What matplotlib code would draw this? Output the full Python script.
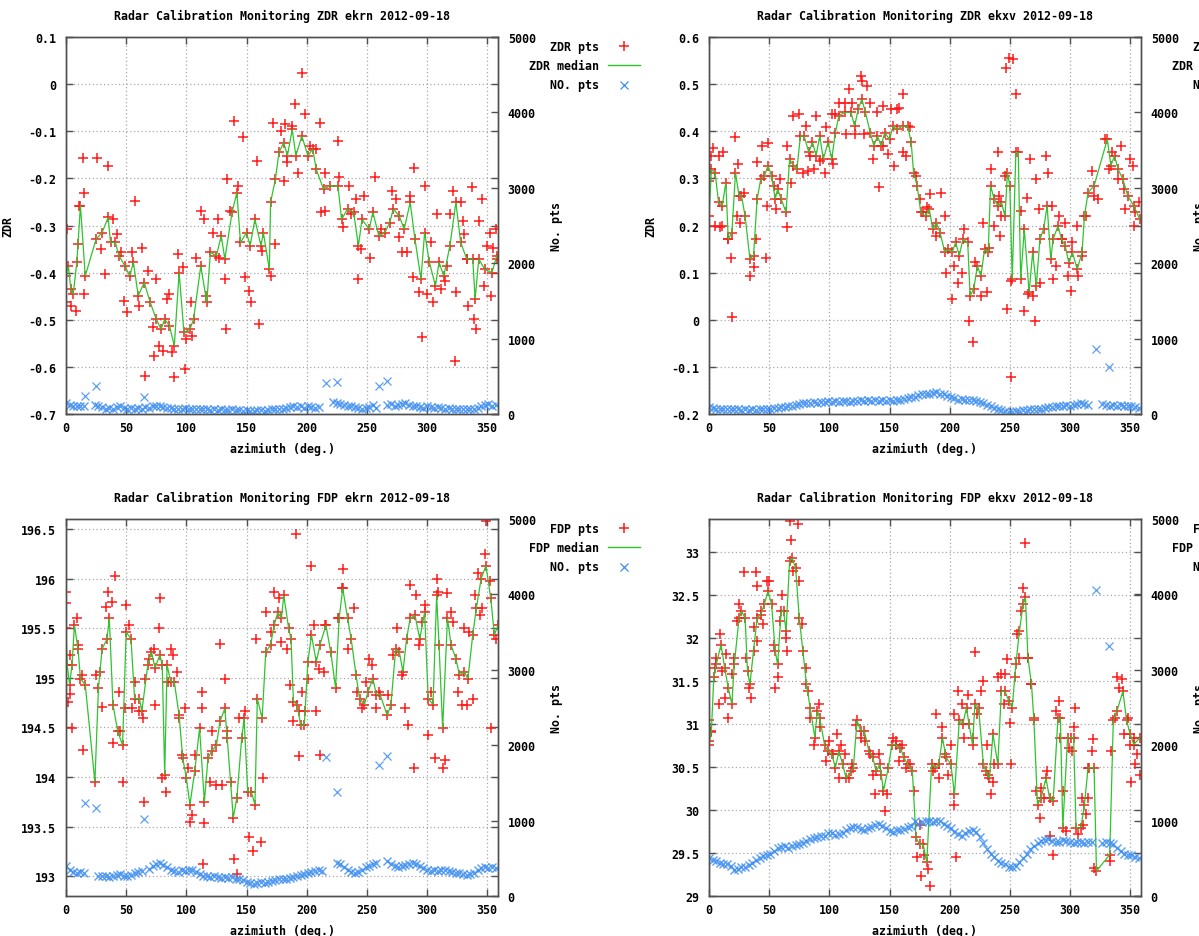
import matplotlib
matplotlib.use('Agg')
import matplotlib.pyplot as plt
from matplotlib.lines import Line2D
from matplotlib.ticker import FuncFormatter, MultipleLocator
import numpy as np

plt.rcParams['font.family'] = ['DejaVu Sans Mono']
plt.rcParams['font.weight'] = 'bold'
plt.rcParams['axes.unicode_minus'] = False

W, H = 1199, 937
FS = 8.4

# ---------------- ZDR ekrn ----------------
zdr_ekrn_median = [(0,-0.407),(2,-0.386),(4,-0.435),(6,-0.446),(9,-0.378),(12,-0.258),(16,-0.407),(25,-0.329),
    (30,-0.315),(35,-0.283),(37,-0.336),(41,-0.336),(44,-0.364),(49,-0.386),(53,-0.407),(56,-0.378),(60,-0.449),
    (65,-0.421),(70,-0.463),(75,-0.499),(79,-0.52),(82,-0.499),(86,-0.513),(90,-0.555),(94,-0.4),(98,-0.527),
    (103,-0.52),(106,-0.499),(112,-0.386),(117,-0.463),(120,-0.357),(125,-0.364),(129,-0.322),(132,-0.371),
    (138,-0.272),(142,-0.23),(145,-0.336),(150,-0.315),(153,-0.343),(157,-0.287),(162,-0.343),(164,-0.315),
    (169,-0.393),(170,-0.251),(174,-0.202),(177,-0.145),(181,-0.124),(184,-0.152),(188,-0.096),(191,-0.152),
    (196,-0.11),(201,-0.152),(205,-0.138),(208,-0.181),(214,-0.223),(219,-0.216),(226,-0.216),(229,-0.287),
    (234,-0.265),(239,-0.272),(243,-0.343),(246,-0.287),(252,-0.308),(255,-0.272),(260,-0.322),(265,-0.315),
    (269,-0.294),(272,-0.265),(277,-0.28),(281,-0.308),(286,-0.251),(290,-0.329),(295,-0.414),(298,-0.315),
    (302,-0.378),(307,-0.428),(310,-0.378),(314,-0.407),(319,-0.343),(324,-0.251),(328,-0.336),(333,-0.371),
    (338,-0.371),(340,-0.456),(343,-0.371),(348,-0.393),(354,-0.4),(358,-0.364)]
zdr_ekrn_pts = [(1,-0.308),(0,-0.463),(4,-0.47),(8,-0.481),(10,-0.34),(11,-0.258),(14,-0.156),(15,-0.23),
    (15,-0.446),(26,-0.156),(35,-0.174),(29,-0.35),(32,-0.403),(39,-0.287),(42,-0.318),(46,-0.357),(48,-0.46),
    (51,-0.484),(55,-0.357),(57,-0.249),(61,-0.47),(63,-0.347),(66,-0.619),(68,-0.396),(72,-0.516),(73,-0.576),
    (75,-0.414),(77,-0.555),(81,-0.566),(84,-0.456),(86,-0.446),(88,-0.569),(90,-0.622),(93,-0.361),(97,-0.389),
    (100,-0.541),(99,-0.605),(104,-0.463),(105,-0.534),(108,-0.368),(112,-0.269),(115,-0.287),(116,-0.449),
    (122,-0.315),(126,-0.287),(127,-0.368),(132,-0.414),(133,-0.52),(134,-0.202),(136,-0.269),(140,-0.078),
    (143,-0.216),(147,-0.113),(149,-0.41),(152,-0.439),(154,-0.463),(159,-0.163),(160,-0.509),(163,-0.354),
    (170,-0.407),(172,-0.082),(174,-0.34),(179,-0.099),(181,-0.205),(182,-0.085),(184,-0.166),(188,-0.089),
    (190,-0.043),(193,-0.188),(196,0.024),(199,-0.064),(203,-0.131),(208,-0.138),(211,-0.082),(212,-0.272),
    (215,-0.269),(215,-0.188),(226,-0.12),(227,-0.198),(230,-0.304),(235,-0.217),(237,-0.276),(241,-0.244),
    (243,-0.414),(245,-0.35),(248,-0.237),(253,-0.368),(257,-0.198),(262,-0.308),(271,-0.227),(274,-0.244),
    (277,-0.325),(279,-0.357),(283,-0.357),(286,-0.237),(289,-0.178),(288,-0.41),(293,-0.442),(296,-0.537),
    (298,-0.216),(300,-0.446),(303,-0.336),(305,-0.463),(308,-0.276),(312,-0.435),(315,-0.417),(317,-0.386),
    (319,-0.276),(322,-0.227),(323,-0.587),(324,-0.442),(328,-0.251),(330,-0.29),(331,-0.318),(333,-0.371),
    (334,-0.47),(337,-0.219),(339,-0.499),(341,-0.52),(343,-0.29),(346,-0.244),(347,-0.428),(350,-0.343),
    (352,-0.315),(353,-0.449),(355,-0.347),(357,-0.308),(358,-0.371)]
nan = float('nan')
zdr_ekrn_count = [150,120,110,100,110,100,nan,nan,120,110,
    90,70,80,70,90,100,80,70,80,70,
    80,70,90,80,100,110,100,90,80,80,
    70,60,70,80,60,70,60,70,60,60,
    50,60,50,60,50,50,60,50,50,40,
    50,40,40,50,50,40,50,60,70,60,
    70,80,90,100,90,100,80,100,90,80,
    90,nan,nan,nan,160,150,130,120,110,100,
    90,80,70,80,90,120,80,nan,nan,120,
    130,110,120,130,140,120,110,100,90,80,
    100,90,80,90,80,70,80,70,60,70,
    60,60,70,60,80,100,120,130,110,120]
zdr_ekrn_count_high = [(16,234),(25,375),(65,221),(216,411),(225,420),(260,375),(267,442)]

# ---------------- ZDR ekxv ----------------
zdr_ekxv_median = [(0,0.22),(2,0.319),(5,0.312),(8,0.249),(11,0.242),(14,0.291),(16,0.171),(19,0.185),(22,0.312),
    (25,0.263),(27,0.263),(30,0.22),(34,0.129),(37,0.136),(40,0.256),(43,0.298),(46,0.305),(49,0.327),(52,0.305),
    (55,0.256),(57,0.277),(60,0.256),(64,0.228),(67,0.341),(70,0.327),(73,0.319),(76,0.39),(79,0.39),(83,0.355),
    (86,0.377),(89,0.348),(92,0.39),(95,0.341),(99,0.377),(102,0.341),(105,0.397),(108,0.433),(113,0.44),
    (118,0.44),(121,0.411),(124,0.447),(127,0.468),(130,0.44),(134,0.397),(137,0.369),(140,0.39),(143,0.369),
    (146,0.397),(150,0.383),(153,0.411),(156,0.404),(161,0.411),(165,0.411),(168,0.377),(170,0.312),(173,0.284),
    (176,0.228),(180,0.22),(183,0.235),(186,0.192),(189,0.206),(192,0.185),(196,0.143),(199,0.15),(202,0.143),
    (205,0.164),(208,0.136),(211,0.171),(215,0.164),(217,0.051),(220,0.065),(223,0.114),(226,0.093),(229,0.15),
    (232,0.143),(234,0.284),(237,0.256),(240,0.242),(243,0.249),(246,0.22),(248,0.312),(250,0.284),(252,0.086),
    (255,0.355),(257,0.355),(259,0.086),(262,0.192),(266,0.058),(269,0.143),(272,0.072),(275,0.171),(278,0.192),
    (281,0.242),(284,0.129),(286,0.171),(290,0.199),(293,0.171),(296,0.157),(299,0.121),(302,0.143),(306,0.107),
    (310,0.143),(312,0.22),(315,0.27),(320,0.284),(331,0.383),(334,0.327),(337,0.348),(340,0.319),(344,0.298),
    (348,0.263),(353,0.242),(358,0.213)]
zdr_ekxv_pts = [(0,0.295),(2,0.348),(3,0.365),(8,0.348),(12,0.355),(5,0.2),(9,0.196),(11,0.2),(16,0.171),
    (18,0.132),(19,0.005),(22,0.387),(24,0.33),(23,0.22),(26,0.206),(29,0.27),(34,0.093),(37,0.111),(39,0.171),
    (40,0.334),(44,0.369),(47,0.132),(48,0.242),(49,0.376),(54,0.284),(56,0.235),(59,0.298),(65,0.196),(65,0.369),
    (68,0.291),(70,0.433),(75,0.436),(78,0.312),(81,0.411),(82,0.316),(84,0.348),(87,0.319),(89,0.433),(92,0.337),
    (96,0.312),(97,0.408),(102,0.436),(103,0.33),(105,0.436),(108,0.461),(113,0.461),(114,0.394),(116,0.489),
    (119,0.461),(121,0.394),(126,0.517),(127,0.507),(129,0.394),(131,0.496),(134,0.461),(136,0.341),(140,0.44),
    (141,0.281),(145,0.454),(145,0.369),(149,0.351),(151,0.447),(154,0.327),(156,0.447),(158,0.45),(161,0.478),
    (161,0.355),(164,0.348),(167,0.408),(172,0.305),(175,0.256),(178,0.228),(181,0.239),(184,0.266),(189,0.178),
    (193,0.27),(196,0.22),(197,0.1),(202,0.044),(204,0.114),(207,0.079),(210,0.1),(212,0.192),(216,-0.002),
    (219,-0.048),(221,0.122),(226,0.051),(228,0.206),(231,0.058),(233,0.153),(234,0.319),(237,0.2),(240,0.355),
    (241,0.263),(242,0.178),(243,0.22),(246,0.305),(248,0.023),(247,0.535),(249,0.556),(253,0.553),(255,0.478),
    (251,-0.122),(251,0.083),(259,0.231),(262,0.019),(264,0.259),(265,0.054),(267,0.341),(269,0.051),(271,-0.002),
    (272,0.298),(274,0.235),(275,0.079),(280,0.348),(282,0.312),(285,0.242),(286,0.086),(288,0.114),(291,0.22),
    (293,0.171),(296,0.206),(298,0.093),(301,0.061),(302,0.164),(306,0.2),(307,0.093),(310,0.136),(313,0.22),
    (318,0.316),(320,0.263),(323,0.256),(329,0.383),(332,0.319),(335,0.355),(340,0.298),(342,0.369),(345,0.277),
    (346,0.235),(350,0.341),(352,0.327),(353,0.2),(354,0.228),(357,0.249)]
zdr_ekxv_count = [90,80,70,60,70,60,70,60,60,50,
    60,50,60,50,60,70,60,70,80,80,
    90,90,100,110,120,130,140,150,150,160,
    150,160,160,170,160,170,160,170,170,160,
    170,170,180,170,180,170,180,170,180,170,
    180,170,190,180,200,210,220,230,250,270,
    260,270,280,290,270,260,240,230,210,190,
    200,180,190,180,170,160,140,120,100,80,
    60,50,40,30,30,40,40,50,50,60,
    60,70,70,80,90,90,100,100,110,120,
    110,120,130,140,130,120,nan,nan,nan,130,
    120,110,120,110,120,110,100,110,90,80]
zdr_ekxv_count_high = [(322,861),(332,618)]

# ---------------- FDP ekrn ----------------
fdp_ekrn_median = [(0,195.5),(1,195.13),(3,194.93),(5,195.13),(7,195.53),(10,195.29),(12,194.99),(16,194.93),
    (24,193.95),(27,194.9),(30,195.29),(34,195.39),(36,195.6),(39,194.73),(43,194.46),(47,194.32),(50,195.46),
    (54,195.39),(57,194.79),(61,194.79),(63,194.66),(68,195.13),(71,195.26),(74,195.1),(78,195.23),(80,195.13),
    (82,194.02),(84,195.13),(87,194.96),(90,194.96),(94,194.62),(97,194.19),(100,193.99),(103,193.72),(107,194.06),
    (111,194.49),(115,193.75),(118,194.19),(121,194.26),(125,194.32),(128,194.56),(132,194.69),(134,194.39),
    (139,193.59),(142,193.79),(146,194.39),(148,194.59),(151,193.85),(154,193.85),(157,193.72),(159,194.79),
    (163,194.59),(166,195.26),(170,195.33),(173,195.53),(176,195.66),(179,195.6),(181,195.83),(185,195.5),
    (187,195.39),(189,194.76),(192,194.73),(195,194.52),(198,194.52),(201,195.16),(204,195.43),(208,195.16),
    (211,195.33),(216,195.53),(220,195.26),(224,194.9),(227,195.6),(230,195.9),(234,195.6),(237,195.39),
    (241,195.03),(244,194.79),(248,194.73),(251,194.86),(255,194.99),(258,194.83),(261,194.83),(267,194.62),
    (270,194.73),(274,195.29),(277,195.26),(280,195.06),(283,195.39),(286,195.6),(290,195.63),(294,195.39),
    (298,195.66),(301,194.79),(305,194.73),(308,195.83),(310,195.33),(313,194.49),(317,195.6),(320,195.33),
    (324,195.19),(327,195.03),(331,195.06),(334,194.99),(338,195.43),(341,195.7),(345,196.0),(349,196.13),
    (353,195.8),(356,195.43),(359,195.53)]
fdp_ekrn_pts = [(0,195.86),(0,195.75),(2,194.76),(3,194.84),(5,194.49),(3,195.23),(9,195.6),(10,195.33),
    (14,194.27),(13,195.03),(25,195.03),(28,195.06),(30,194.71),(33,195.71),(35,195.86),(38,195.76),(39,194.34),
    (41,196.03),(44,194.86),(45,194.46),(47,193.95),(49,194.69),(50,195.73),(52,195.53),(55,194.69),(57,194.96),
    (61,194.66),(64,194.59),(65,193.75),(66,194.99),(69,195.19),(73,195.29),(74,194.73),(78,195.8),(77,195.5),
    (80,193.99),(83,193.85),(85,194.96),(87,195.29),(89,195.23),(92,195.06),(94,194.59),(96,194.22),(99,194.69),
    (101,194.09),(103,193.55),(105,193.62),(107,194.22),(113,194.86),(113,194.69),(115,193.54),(114,193.12),
    (120,193.95),(121,194.46),(125,193.92),(128,195.34),(130,193.92),(132,194.99),(134,194.46),(137,193.95),
    (140,193.17),(142,193.02),(144,194.59),(149,194.66),(152,193.39),(155,193.25),(158,195.39),(162,193.34),
    (164,193.99),(166,195.66),(170,195.46),(173,195.86),(177,195.8),(179,195.36),(184,195.29),(186,194.93),
    (189,194.56),(191,196.45),(194,194.66),(194,194.21),(196,194.86),(199,194.66),(201,194.99),(204,196.13),
    (206,195.53),(208,194.66),(210,195.09),(211,194.22),(214,195.06),(215,195.53),(226,195.6),(229,195.9),
    (230,196.1),(234,195.29),(239,195.7),(242,194.86),(246,194.69),(249,194.96),(252,195.19),(254,195.13),
    (258,194.69),(260,194.86),(268,194.83),(272,195.23),(275,195.5),(279,195.03),(282,194.69),(284,194.52),
    (286,195.93),(289,194.09),(291,195.83),(293,195.33),(296,195.56),(298,195.73),(301,194.42),(303,194.86),
    (307,194.19),(308,196.0),(309,195.86),(313,194.09),(315,194.17),(317,195.85),(320,195.66),(322,195.56),
    (326,194.86),(329,194.73),(331,195.5),(333,194.73),(335,195.46),(338,194.79),(340,195.83),(342,196.06),
    (344,195.63),(346,195.7),(348,196.25),(349,196.58),(352,195.98),(353,194.49),(357,195.39)]
fdp_ekrn_count = [400,350,320,300,320,310,nan,nan,nan,270,
    260,270,250,270,280,290,270,260,280,300,
    320,330,nan,360,400,430,440,410,380,350,
    330,320,340,330,350,340,320,290,270,260,
    250,260,250,240,250,240,250,230,220,210,
    180,170,160,170,180,170,190,200,210,220,
    230,220,240,250,270,280,290,300,320,330,
    340,330,nan,nan,nan,440,420,380,350,320,
    300,320,340,380,400,420,440,nan,nan,460,
    420,400,380,400,410,430,440,420,400,370,
    340,330,340,330,340,350,330,320,310,300,
    290,280,290,310,350,370,380,370,380,370]
fdp_ekrn_count_high = [(16,1236),(25,1170),(65,1015),(216,1840),(225,1381),(260,1734),(267,1853)]

# ---------------- FDP ekxv ----------------
fdp_ekxv_median = [(0,30.76),(2,30.92),(4,31.54),(6,31.69),(10,31.92),(13,31.65),(16,31.42),(19,31.23),(21,31.69),
    (25,32.23),(27,32.31),(30,32.23),(32,31.61),(34,31.46),(37,31.85),(40,32.23),(43,32.27),(46,32.39),(49,32.54),
    (52,32.39),(55,31.85),(57,31.69),(60,32.31),(62,32.31),(64,32.08),(67,32.89),(69,32.93),(72,32.81),(75,32.23),
    (78,31.85),(81,31.46),(84,31.19),(88,30.84),(90,31.15),(92,31.07),(96,30.76),(99,30.68),(102,30.65),(105,30.49),
    (108,30.68),(111,30.53),(114,30.37),(118,30.45),(120,30.49),(123,31.04),(126,30.92),(129,30.92),(133,30.68),
    (136,30.61),(139,30.45),(142,30.53),(145,30.22),(149,30.49),(152,30.76),(155,30.76),(159,30.72),(162,30.61),
    (165,30.53),(169,30.45),(172,29.68),(175,29.6),(178,29.6),(181,29.39),(185,30.53),(188,30.49),(191,30.53),
    (194,30.84),(197,30.61),(201,30.53),(204,30.18),(208,31.04),(211,31.0),(214,31.19),(216,31.0),(219,30.76),
    (221,31.23),(224,31.19),(228,30.53),(230,30.45),(233,30.37),(236,30.88),(240,30.53),(243,31.38),(246,31.38),
    (249,31.27),(252,31.19),(255,31.69),(258,32.08),(261,32.39),(263,32.47),(265,31.77),(268,31.46),(270,31.04),
    (273,30.06),(276,30.14),(280,30.37),(283,30.14),(286,30.1),(290,31.07),(292,31.07),(294,29.79),(298,30.84),
    (301,30.84),(303,30.84),(305,29.79),(309,29.79),(312,30.06),(315,30.49),(320,30.49),(322,29.29),(333,29.48),
    (336,31.04),(339,31.15),(344,31.38),(347,31.04),(350,30.88),(353,30.76),(358,30.84)]
fdp_ekxv_pts = [(0,31.05),(0,30.8),(2,30.9),(5,31.65),(6,31.77),(8,31.23),(9,32.04),(11,31.61),(13,31.3),
    (14,31.81),(16,31.07),(19,31.58),(21,31.77),(23,32.19),(25,32.39),(29,32.76),(31,31.77),(33,31.42),(35,31.3),
    (37,32.12),(39,32.76),(40,32.6),(40,31.96),(43,32.31),(45,32.16),(48,32.66),(50,32.66),(54,31.92),(55,31.42),
    (57,31.54),(59,32.19),(61,32.5),(64,32.0),(65,31.85),(67,33.36),(68,33.14),(70,32.78),(74,33.32),(75,32.66),
    (77,32.16),(81,31.65),(82,31.38),(84,31.07),(87,30.76),(91,31.23),(92,30.96),(97,30.57),(100,30.8),(103,30.65),
    (106,30.88),(108,30.37),(110,30.76),(113,30.65),(116,30.37),(119,30.53),(122,30.99),(126,30.84),(130,30.8),
    (134,30.65),(136,30.41),(138,30.18),(141,30.65),(143,30.41),(146,29.99),(148,30.18),(153,30.84),(155,30.8),
    (158,30.57),(160,30.76),(164,30.49),(167,30.53),(170,30.22),(173,29.45),(175,29.83),(176,29.23),(179,29.48),
    (182,29.31),(184,29.12),(186,30.45),(189,31.11),(191,30.37),(194,30.96),(196,30.65),(199,30.41),(201,30.76),
    (204,30.06),(205,29.45),(204,31.11),(207,31.38),(210,31.23),(212,30.84),(215,31.34),(219,30.84),(221,31.83),
    (223,31.11),(226,31.38),(228,31.5),(231,30.76),(232,30.41),(234,30.18),(236,30.33),(237,30.53),(240,31.54),
    (243,31.58),(245,31.23),(246,31.58),(248,31.75),(250,31.01),(251,30.53),(254,31.54),(256,32.04),(258,31.77),
    (259,32.31),(261,32.58),(263,33.1),(265,31.77),(268,31.46),(270,31.07),(272,30.22),(275,29.91),(276,30.26),
    (278,30.14),(281,30.45),(283,29.7),(286,29.48),(288,31.15),(291,31.27),(292,30.84),(294,30.22),(297,29.76),
    (299,30.72),(302,30.68),(303,30.96),(304,31.19),(307,29.72),(310,30.14),(311,29.83),(313,29.95),(315,30.14),
    (316,30.49),(318,30.68),(319,30.82),(320,29.33),(333,29.41),(334,30.68),(337,31.07),(339,31.54),(341,31.42),
    (343,31.52),(345,30.88),(348,31.07),(350,30.76),(351,30.33),(353,30.84),(354,30.53),(356,30.65),(358,30.41)]
fdp_ekxv_count = [510,480,460,440,420,420,400,340,360,380,
    390,410,440,480,510,530,540,560,600,630,
    650,660,640,660,680,690,700,730,750,770,
    780,790,800,830,840,810,820,840,870,900,
    920,910,890,880,900,920,940,950,930,900,
    860,850,880,870,890,910,930,1000,960,980,
    990,990,980,1000,990,960,930,900,850,820,
    800,830,860,880,850,780,700,620,560,520,
    470,440,420,390,380,400,450,500,560,620,
    660,700,730,740,760,730,710,720,740,730,
    720,700,710,720,700,720,710,nan,nan,700,
    720,700,690,640,600,560,550,540,520,510]
fdp_ekxv_count_high = [(322,4060),(332,3310)]

count_az = np.arange(0, 360, 3)

RED = '#ff1a1a'
GREEN = '#2ec42e'
BLUE = '#3d8ef0'

fig = plt.figure(figsize=(W / 100, H / 100), dpi=100)


def fmt(v, pos):
    return '%g' % round(v, 6)


def panel(left, top, title, var, ylim, ystep, median, pts, count, count_high, show_ylabel=True):
    right, bottom = left + 432, top + 377
    ax = fig.add_axes([left / W, 1 - bottom / H, (right - left) / W, (bottom - top) / H])
    ax2 = ax.twinx()

    med_az, med_val = zip(*median)
    p_az, p_val = zip(*pts)
    ax.plot(list(p_az) + list(med_az), list(p_val) + list(med_val), '+',
            color=RED, ms=6.5, mew=1.1, zorder=2)
    ax.plot(med_az, med_val, color=GREEN, lw=0.9, zorder=3)

    h_az, h_val = zip(*count_high)
    ax2.plot(count_az, count, 'x', color=BLUE, ms=6, mew=1.0, alpha=0.85)
    ax2.plot(h_az, h_val, 'x', color=BLUE, ms=6, mew=0.9, alpha=0.85)

    ax.set_xlim(0, 359)
    ax.set_ylim(*ylim)
    ax2.set_ylim(0, 5000)
    ax.xaxis.set_major_locator(MultipleLocator(50))
    ax.yaxis.set_major_locator(MultipleLocator(ystep))
    ax2.yaxis.set_major_locator(MultipleLocator(1000))
    ax.yaxis.set_major_formatter(FuncFormatter(fmt))
    ax.grid(True, color='#a8a8a8', linestyle=(0, (1, 2)), lw=0.9)
    ax.set_axisbelow(True)

    for a in (ax, ax2):
        for s in a.spines.values():
            s.set_color('#505050')
            s.set_linewidth(1.0)
        a.tick_params(labelsize=FS, direction='in', length=5, width=1, color='#505050', pad=7)
    ax.tick_params(top=True, right=True)
    ax.tick_params(axis='x', pad=5)

    ax.set_title(title, fontsize=FS, fontweight='bold', pad=13)
    ax.set_xlabel('azimiuth (deg.)', fontsize=FS, fontweight='bold', labelpad=6)
    if show_ylabel:
        ax.set_ylabel(var, fontsize=FS, fontweight='bold', labelpad=10)
    ax2.set_ylabel('No. pts', fontsize=FS, fontweight='bold', labelpad=10)

    # legend outside the plot, right side
    tx = (right + 101) / W
    mx = (right + 126) / W
    rows = [top + 9, top + 28, top + 48]
    labels = [var + ' pts', var + ' median', 'NO. pts']
    for lab, y in zip(labels, rows):
        fig.text(tx, 1 - y / H, lab, ha='right', va='center', fontsize=FS, fontweight='bold')
    fig.add_artist(Line2D([mx], [1 - rows[0] / H], transform=fig.transFigure,
                          marker='+', color=RED, ms=6.5, mew=1.1))
    fig.add_artist(Line2D([(right + 110) / W, (right + 142) / W], [1 - rows[1] / H] * 2,
                          transform=fig.transFigure, color=GREEN, lw=1))
    fig.add_artist(Line2D([mx], [1 - rows[2] / H], transform=fig.transFigure,
                          marker='x', color=BLUE, ms=6, mew=0.9))


panel(66, 38, 'Radar Calibration Monitoring ZDR ekrn 2012-09-18', 'ZDR', (-0.7, 0.1), 0.1,
      zdr_ekrn_median, zdr_ekrn_pts, zdr_ekrn_count, zdr_ekrn_count_high)
panel(709, 38, 'Radar Calibration Monitoring ZDR ekxv 2012-09-18', 'ZDR', (-0.2, 0.6), 0.1,
      zdr_ekxv_median, zdr_ekxv_pts, zdr_ekxv_count, zdr_ekxv_count_high)
panel(66, 520, 'Radar Calibration Monitoring FDP ekrn 2012-09-18', 'FDP', (192.8, 196.6), 0.5,
      fdp_ekrn_median, fdp_ekrn_pts, fdp_ekrn_count, fdp_ekrn_count_high, show_ylabel=False)
panel(709, 520, 'Radar Calibration Monitoring FDP ekxv 2012-09-18', 'FDP', (29.0, 33.38), 0.5,
      fdp_ekxv_median, fdp_ekxv_pts, fdp_ekxv_count, fdp_ekxv_count_high, show_ylabel=False)

fig.savefig('out.png', dpi=100)
